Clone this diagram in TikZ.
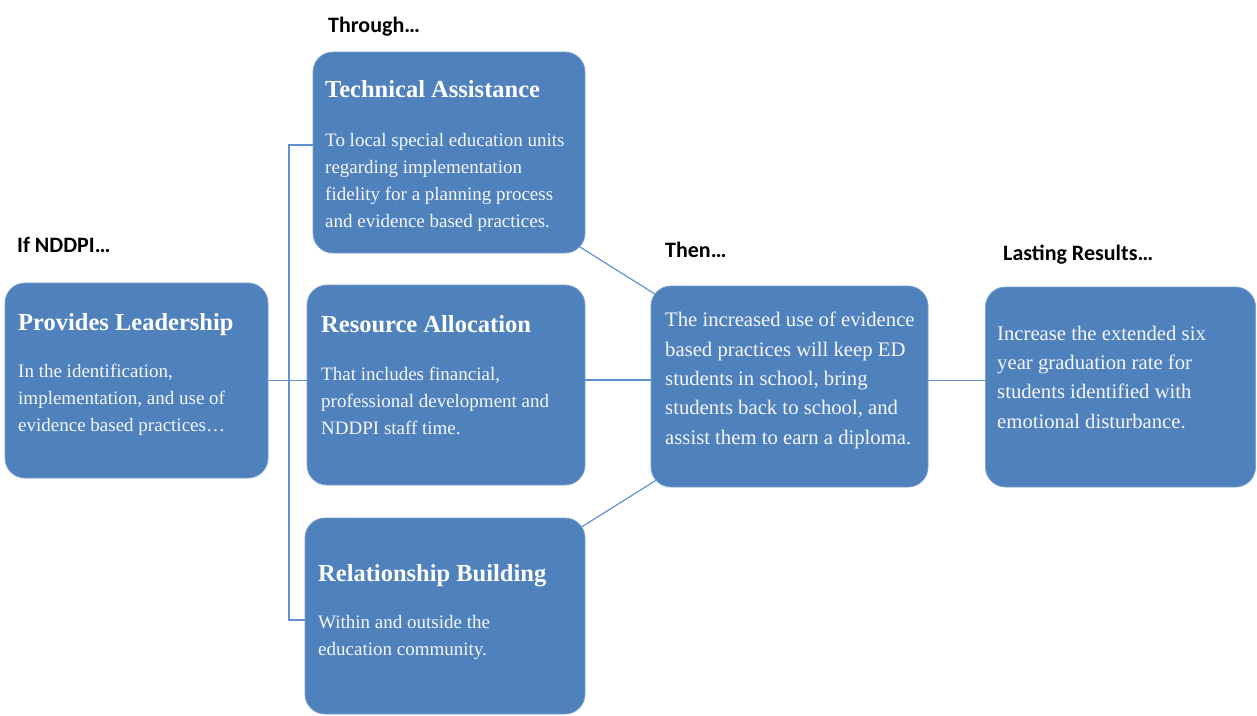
\documentclass[tikz,border=0pt]{standalone}
\usepackage{fontspec}
\setmainfont{Liberation Serif}
\newfontfamily\headfont{Carlito}
\usetikzlibrary{positioning,backgrounds}

\definecolor{boxblue}{HTML}{4F81BD}
\definecolor{linkblue}{HTML}{6191D2}

\tikzset{
  box/.style={draw=boxblue!75!white, line width=0.8pt, fill=boxblue, rounded corners=20pt, inner sep=0pt},
  ttl/.style={anchor=base west, inner sep=0pt, text=white, font=\bfseries\fontsize{24.5}{28}\selectfont},
  % multi-line texts: base is the last line
  txt/.style={anchor=base west, inner sep=0pt, align=left, text=white!94!boxblue, font=\fontsize{19}{27}\selectfont},
  bigtxt/.style={txt, font=\fontsize{20.7}{29.3}\selectfont},
  lbl/.style={anchor=base west, inner sep=0pt, font=\headfont\bfseries\fontsize{22}{26}\selectfont},
  link/.style={draw=linkblue, line width=1.2pt}
}

\begin{document}
\begin{tikzpicture}[x=1pt,y=-1pt]
\useasboundingbox (0,0) rectangle (1257,715);

% headings
\node[lbl] (through) at (328,32) {Through…};
\node[lbl] (ifnd) at (17,252) {If NDDPI…};
\node[lbl] (thenlbl) at (665,257) {Then…};
\node[lbl] (lasting) at (1003,260) {Lasting Results…};

% boxes
\node[box, minimum width=263pt, minimum height=195pt] (lead) at (136.5,380.5) {};
\node[box, minimum width=272pt, minimum height=201pt] (tech) at (449,152.5) {};
\node[box, minimum width=278pt, minimum height=200pt] (res) at (446,385) {};
\node[box, minimum width=280pt, minimum height=196pt] (rel) at (445,616) {};
\node[box, minimum width=277pt, minimum height=201pt] (then) at (789.5,386.5) {};
\node[box, minimum width=270pt, minimum height=200pt] (result) at (1120.5,387) {};

% box texts
\node[ttl] (leadttl) at (18,330) {Provides Leadership};
\node[txt] (leadtxt) at (18,431) {In the identification,\\implementation, and use of\\evidence based practices…};

\node[ttl] (techttl) at (325,97) {Technical Assistance};
\node[txt] (techtxt) at (325,227) {To local special education units\\regarding implementation\\fidelity for a planning process\\and evidence based practices.};

\node[ttl] (resttl) at (321,332) {Resource Allocation};
\node[txt] (restxt) at (321,434) {That includes financial,\\professional development and\\NDDPI staff time.};

\node[ttl] (relttl) at (318,581) {Relationship Building};
\node[txt] (reltxt) at (318,655) {Within and outside the\\education community.};

\node[bigtxt] (thentxt) at (665,444) {The increased use of evidence\\based practices will keep ED\\students in school, bring\\students back to school, and\\assist them to earn a diploma.};

\node[bigtxt] (resulttxt) at (997,428) {Increase the extended six\\year graduation rate for\\students identified with\\emotional disturbance.};

% connectors
\coordinate (forktop) at (289,145);
\coordinate (forkbot) at (289,620);
\begin{scope}[on background layer]
\draw[link] (tech.west |- forktop) -- (forktop) -- (forkbot) -- (rel.west |- forkbot);
\draw[link] (lead.east) -- (lead.east -| res.west);
\draw[link] ([yshift=5pt]res.east) -- ([yshift=5pt]res.east -| then.west);
\draw[link] ([xshift=-8pt,yshift=8pt]tech.south east) -- ([xshift=10pt,yshift=-12pt]then.north west);
\draw[link] ([xshift=-8pt,yshift=-12pt]rel.north east) -- ([xshift=10pt,yshift=10pt]then.south west);
\draw[link] ([yshift=6pt]then.east) -- ([yshift=6pt]then.east -| result.west);
\end{scope}
\end{tikzpicture}
\end{document}
